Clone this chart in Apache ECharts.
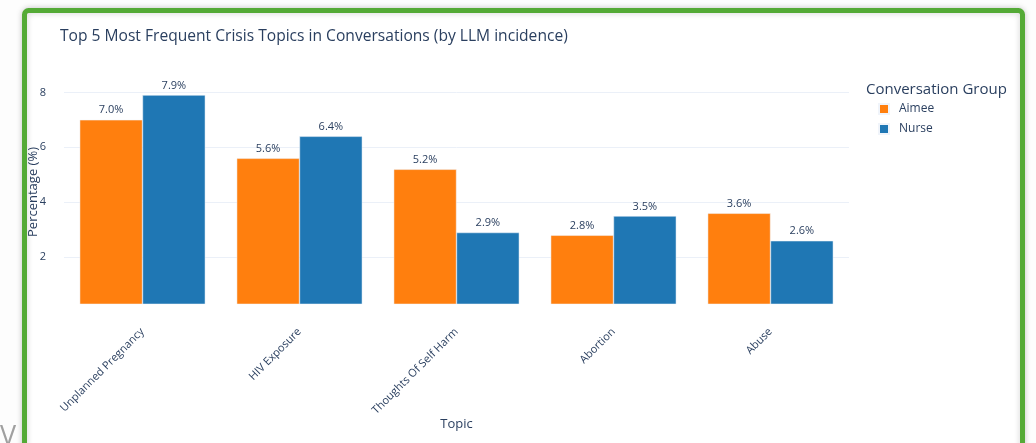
<!DOCTYPE html>
<html>
<head>
<meta charset="utf-8">
<script src="https://cdn.jsdelivr.net/npm/echarts@6/dist/echarts.min.js"></script>
<style>
html,body{margin:0;padding:0;background:#fdfdfd;}
#chart{width:1036px;height:443px;}
</style>
</head>
<body>
<div id="chart"></div>
<script>
const categories = ["Unplanned Pregnancy", "HIV Exposure", "Thoughts Of Self Harm", "Abortion", "Abuse"];
const aimeeValues = [7.0, 5.6, 5.2, 2.8, 3.6];
const nurseValues = [7.9, 6.4, 2.9, 3.5, 2.6];
const seriesNames = ["Aimee", "Nurse"];

const txt = '#2a3f5f';
const font = '"Open Sans", "Noto Sans", sans-serif';
const chart = echarts.init(document.getElementById('chart'), null, {renderer: 'canvas'});

const labelCfg = {
  show: true, position: 'top', distance: 4,
  formatter: p => p.value.toFixed(1) + '%',
  color: txt, fontSize: 11, fontFamily: font
};

chart.setOption({
  animation: false,
  backgroundColor: '#fdfdfd',
  color: ['#ff7f0e', '#1f77b4'],
  graphic: [
    {type: 'rect', z: -10, shape: {x: 24.5, y: 10.5, width: 998, height: 470, r: 4},
     style: {fill: '#ffffff', stroke: '#54aa36', lineWidth: 5, shadowBlur: 6, shadowColor: 'rgba(0,0,0,0.18)'}},
    {type: 'text', left: 0, top: 424, style: {text: 'V', fontSize: 27, fill: '#a0a0a0', fontFamily: font}},
    {type: 'text', left: 60, top: 29, style: {text: 'Top 5 Most Frequent Crisis Topics in Conversations (by LLM incidence)', fontSize: 15.6, fill: txt, fontFamily: font}},
    {type: 'text', left: 866, top: 82, style: {text: 'Conversation Group', fontSize: 15, fill: txt, fontFamily: font}}
  ],
  legend: {
    data: seriesNames, orient: 'vertical', left: 873, top: 98,
    itemWidth: 10, itemHeight: 10, itemGap: 8, icon: 'rect',
    textStyle: {color: txt, fontSize: 12, fontFamily: font, padding: [0, 0, 0, 5]}
  },
  grid: {left: 64, right: 187, top: 80, bottom: 139},
  xAxis: {
    type: 'category', data: categories,
    name: 'Topic', nameLocation: 'middle', nameGap: 114, nameMoveOverlap: false,
    nameTextStyle: {color: txt, fontSize: 13, fontFamily: font},
    axisLine: {show: false}, axisTick: {show: false},
    axisLabel: {rotate: 45, margin: 26, color: txt, fontSize: 11, fontFamily: font, interval: 0}
  },
  yAxis: {
    type: 'value', min: 0.3, max: 8.45, splitNumber: 4,
    name: 'Percentage (%)', nameLocation: 'middle', nameGap: 24, nameMoveOverlap: false,
    nameTextStyle: {color: txt, fontSize: 13, fontFamily: font},
    axisLine: {show: false}, axisTick: {show: false},
    axisLabel: {color: txt, fontSize: 11, fontFamily: font, margin: 18, showMinLabel: false, showMaxLabel: false,
      formatter: v => (Math.abs(v - Math.round(v)) < 1e-6 ? String(Math.round(v)) : '')},
    splitLine: {lineStyle: {color: '#ebf0f8', width: 1}, showMinLine: false, showMaxLine: false}
  },
  series: [
    {name: seriesNames[0], type: 'bar', data: aimeeValues, barGap: '0%', barCategoryGap: '20%',
     itemStyle: {borderColor: '#f0f4fa', borderWidth: 0.5}, label: labelCfg},
    {name: seriesNames[1], type: 'bar', data: nurseValues,
     itemStyle: {borderColor: '#f0f4fa', borderWidth: 0.5}, label: labelCfg}
  ]
});
</script>
</body>
</html>
